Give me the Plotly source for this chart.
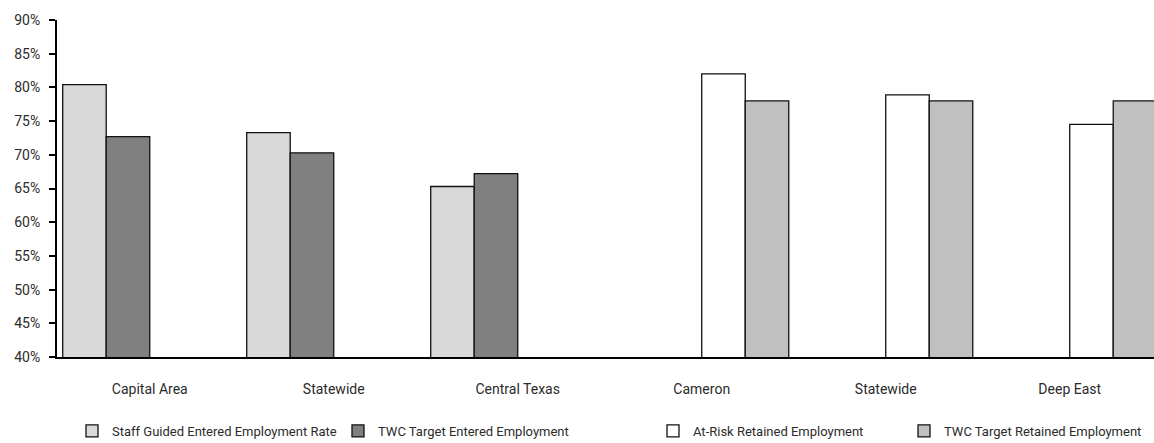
import plotly.graph_objects as go

# Regions along the x axis (Statewide appears once for each measure pair)
regions = ["Capital Area", "Statewide", "Central Texas", "Cameron", "Statewide", "Deep East"]

# Entered employment measures (percent)
staff_guided_entered = [80.4, 73.3, 65.3, None, None, None]
twc_target_entered = [72.7, 70.3, 67.2, None, None, None]

# Retained employment measures (percent)
at_risk_retained = [None, None, None, 82.0, 78.9, 74.5]
twc_target_retained = [None, None, None, 78.0, 78.0, 78.0]

series_names = [
    "Staff Guided Entered Employment Rate",
    "TWC Target Entered Employment",
    "At-Risk Retained Employment",
    "TWC Target Retained Employment",
]
series_values = [staff_guided_entered, twc_target_entered, at_risk_retained, twc_target_retained]
series_colors = ["#d9d9d9", "#808080", "#ffffff", "#c0c0c0"]

y_ticks = [40, 45, 50, 55, 60, 65, 70, 75, 80, 85, 90]
y_tick_labels = [f"{v}%" for v in y_ticks]

FONT = "Roboto, Liberation Sans, sans-serif"
TEXT_COLOR = "#2b2b2b"

x_pos = list(range(len(regions)))

fig = go.Figure()
legend_ids = ["legend", "legend2", "legend3", "legend4"]
for name, vals, color, lg in zip(series_names, series_values, series_colors, legend_ids):
    fig.add_trace(go.Bar(
        x=x_pos,
        y=vals,
        name=name,
        marker=dict(color=color, line=dict(color="#111111", width=1.3)),
        legend=lg,
    ))

# left edges of the four legend entries, in pixels
legend_x = [72, 338, 653, 904]
legend_common = dict(
    orientation="h",
    xref="container",
    yref="container",
    yanchor="middle",
    xanchor="left",
    y=1 - 431 / 443,
    font=dict(family=FONT, size=13, color=TEXT_COLOR),
    bgcolor="rgba(0,0,0,0)",
    itemwidth=30,
)

fig.update_layout(
    width=1154,
    height=443,
    margin=dict(l=57, r=0, t=20, b=86),
    plot_bgcolor="white",
    paper_bgcolor="white",
    barmode="group",
    bargap=0.054,
    bargroupgap=0,
    font=dict(family=FONT, size=14, color=TEXT_COLOR),
    showlegend=True,
    legend=dict(x=legend_x[0] / 1154, **legend_common),
    legend2=dict(x=legend_x[1] / 1154, **legend_common),
    legend3=dict(x=legend_x[2] / 1154, **legend_common),
    legend4=dict(x=legend_x[3] / 1154, **legend_common),
    xaxis=dict(
        range=[-0.504, 5.458],
        tickmode="array",
        tickvals=x_pos,
        ticktext=regions,
        showgrid=False,
        zeroline=False,
        showline=True,
        linecolor="black",
        linewidth=2,
        ticks="",
        ticklabelstandoff=18,
        tickfont=dict(family=FONT, size=14, color=TEXT_COLOR),
    ),
    yaxis=dict(
        range=[40, 90],
        tickmode="array",
        tickvals=y_ticks,
        ticktext=y_tick_labels,
        showgrid=False,
        zeroline=False,
        showline=True,
        linecolor="black",
        linewidth=2,
        ticks="outside",
        ticklen=6,
        tickwidth=2,
        tickcolor="black",
        ticklabelstandoff=6,
        tickfont=dict(family=FONT, size=14, color=TEXT_COLOR),
    ),
)

fig.write_html("out.html")
